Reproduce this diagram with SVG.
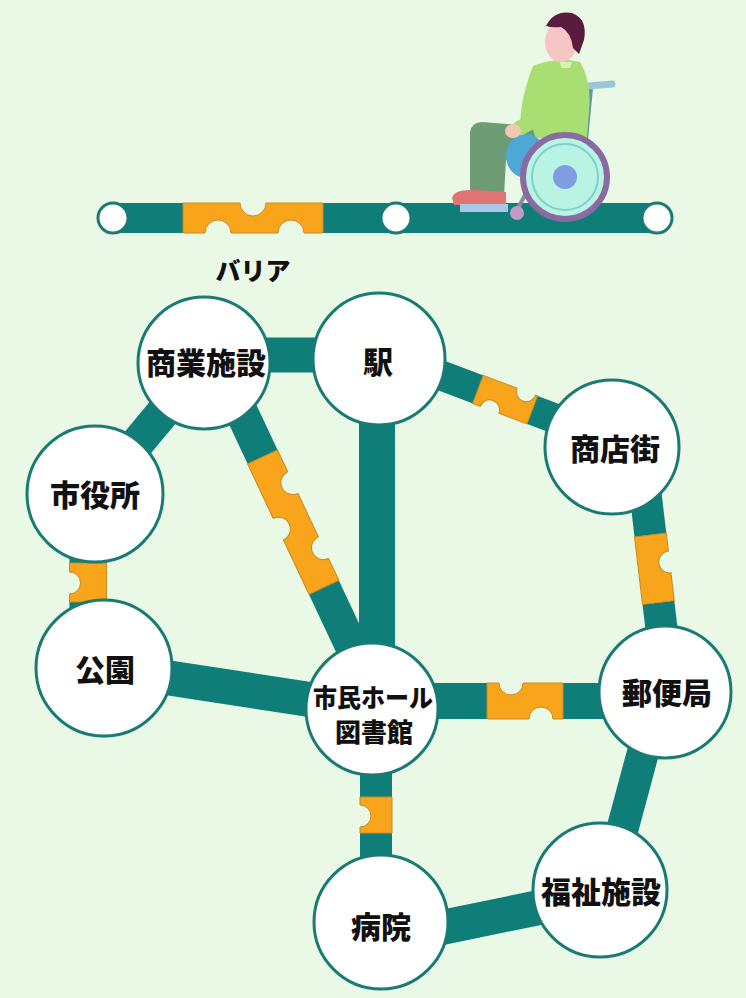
<svg xmlns="http://www.w3.org/2000/svg" width="746" height="998" viewBox="0 0 746 998">
  <style>
    .bg { fill: #e9f9e6; }
    .track { stroke: #0f7d78; fill: none; stroke-linecap: butt; }
    .gap { fill: #e9f9e6; }
    .barrier { fill: #f9a51c; stroke: #c88a22; stroke-width: 1; }
    .node { fill: #ffffff; stroke: #1a7a74; stroke-width: 3; }
    .stop { fill: #ffffff; stroke: #1a7a74; stroke-width: 3; }
    .label { font-family: "Noto Sans CJK JP", "Noto Sans", sans-serif; font-weight: 900; fill: #111111; text-anchor: middle; }
  </style>

  <rect class="bg" x="0" y="0" width="746" height="998"/>

  <!-- legend: route strip with a barrier section -->
  <g id="legend">
    <rect x="113" y="203" width="544" height="30" fill="#0f7d78"/>
    <rect class="gap" x="183" y="202" width="140" height="32"/>
    <path class="barrier" d="M183,203 L240,203 A13,13 0 0 0 266,203 L323,203 L323,233 L304,233 A13,13 0 0 0 278,233 L231,233 A13,13 0 0 0 205,233 L183,233 Z"/>
    <circle class="stop" cx="113" cy="218" r="15"/>
    <circle class="stop" cx="396" cy="218" r="15"/>
    <circle class="stop" cx="657" cy="218" r="15"/>
    <text class="label" x="253" y="280" font-size="25">バリア</text>
  </g>

  <!-- wheelchair user on the strip -->
  <g id="wheelchair-user">
    <!-- chair back and handle -->
    <path d="M590,88 L585,140" stroke="#5b98ad" stroke-width="6" fill="none" stroke-linecap="round"/>
    <path d="M588,86 L612,84" stroke="#9cc6d8" stroke-width="7" fill="none" stroke-linecap="round"/>
    <!-- torso -->
    <path d="M533,66 Q558,56 580,62 Q592,82 589,112 L587,138 L522,138 Q516,110 533,66 Z" fill="#a8de72"/>
    <!-- thigh and lower leg -->
    <path d="M482,122 L532,126 L542,160 L506,160 L504,196 L470,196 L470,132 Q472,122 482,122 Z" fill="#6e9c74"/>
    <!-- seat cushion -->
    <ellipse cx="526" cy="156" rx="20" ry="22" fill="#4ea8d6"/>
    <!-- arm and hand -->
    <path d="M566,80 Q552,112 520,128" stroke="#a8de72" stroke-width="15" fill="none" stroke-linecap="round"/>
    <ellipse cx="513" cy="131" rx="8" ry="7" fill="#f2c8b4"/>
    <!-- head -->
    <ellipse cx="561" cy="42" rx="16" ry="20" fill="#f6c6c6"/>
    <path d="M546,26 Q554,10 572,13 Q588,19 584,40 L579,54 L573,48 Q571,32 561,27 Q552,28 546,26 Z" fill="#5b1b3f"/>
    <path d="M560,62 L572,62 L570,68 L561,68 Z" fill="#d8f0b8"/>
    <!-- front frame and caster -->
    <path d="M540,168 L518,208" stroke="#8a8aa0" stroke-width="4" fill="none"/>
    <circle cx="517" cy="213" r="7" fill="#c59ac9"/>
    <!-- shoe and footrest -->
    <path d="M452,198 Q454,189 474,190 L506,192 L506,205 L454,205 Z" fill="#e07474"/>
    <rect x="460" y="204" width="48" height="8" fill="#a7c9e6"/>
    <!-- big wheel -->
    <circle cx="565" cy="177" r="42" fill="#b9f3e4" stroke="#8a6aa0" stroke-width="6"/>
    <circle cx="565" cy="177" r="33" fill="none" stroke="#7fd0cc" stroke-width="2"/>
    <circle cx="565" cy="177" r="12" fill="#7f9ee0"/>
  </g>

  <!-- connectors -->
  <g id="connectors">
    <!-- 商業施設 – 駅 -->
    <line class="track" x1="204" y1="355" x2="379" y2="355" stroke-width="35"/>
    <!-- 商業施設 – 市役所 -->
    <line class="track" x1="204" y1="363" x2="95" y2="494" stroke-width="34"/>
    <!-- 駅 – 市民ホール -->
    <line class="track" x1="377" y1="359" x2="377" y2="709" stroke-width="36"/>
    <!-- 公園 – 市民ホール -->
    <line class="track" x1="104" y1="668" x2="372" y2="709" stroke-width="35"/>
    <!-- 郵便局 – 福祉施設 -->
    <line class="track" x1="659" y1="693" x2="606" y2="890" stroke-width="32"/>
    <!-- 福祉施設 – 病院 -->
    <line class="track" x1="381" y1="940" x2="600" y2="895" stroke-width="35"/>

    <!-- 商業施設 – 市民ホール (barrier) -->
    <line class="track" x1="218" y1="362" x2="381" y2="709" stroke-width="33"/>
    <g transform="translate(262.6,457) rotate(64.8)">
      <rect class="gap" x="0" y="-18" width="144" height="36"/>
      <path class="barrier" d="M0,-16.5 L24,-16.5 A12,12 0 0 0 48,-16.5 L96,-16.5 A12,12 0 0 0 120,-16.5 L144,-16.5 L144,16.5 L84,16.5 A12,12 0 0 0 60,16.5 L0,16.5 Z"/>
    </g>

    <!-- 駅 – 商店街 (barrier) -->
    <line class="track" x1="379" y1="352" x2="612" y2="440" stroke-width="30"/>
    <g transform="translate(478,389.4) rotate(20.7)">
      <rect class="gap" x="0" y="-16" width="58" height="32"/>
      <path class="barrier" d="M0,-15 L36,-15 A10,10 0 0 0 56,-15 L58,-15 L58,15 L28,15 A10,10 0 0 0 8,15 L0,15 Z"/>
    </g>

    <!-- 商店街 – 郵便局 (barrier) -->
    <line class="track" x1="640" y1="447" x2="669" y2="692" stroke-width="32"/>
    <g transform="translate(650.4,535) rotate(83.25)">
      <rect class="gap" x="0" y="-17" width="68" height="34"/>
      <path class="barrier" d="M0,-16 L18,-16 A11,11 0 0 0 40,-16 L68,-16 L68,16 L0,16 Z"/>
    </g>

    <!-- 市役所 – 公園 (barrier) -->
    <line class="track" x1="88" y1="520" x2="88" y2="640" stroke-width="37"/>
    <g transform="translate(88,563) rotate(90)">
      <rect class="gap" x="0" y="-19" width="39" height="38"/>
      <path class="barrier" d="M0,-18.5 L39,-18.5 L39,18.5 L31,18.5 A11,11 0 0 0 9,18.5 L0,18.5 Z"/>
    </g>

    <!-- 市民ホール – 郵便局 (barrier) -->
    <line class="track" x1="372" y1="701" x2="666" y2="701" stroke-width="36"/>
    <rect class="gap" x="487" y="682" width="76" height="38"/>
    <path class="barrier" d="M487,683 L499,683 A12,12 0 0 0 523,683 L563,683 L563,719 L553,719 A12,12 0 0 0 529,719 L487,719 Z"/>

    <!-- 市民ホール – 病院 (barrier) -->
    <line class="track" x1="376" y1="709" x2="376" y2="922" stroke-width="32"/>
    <rect class="gap" x="359" y="797" width="34" height="36"/>
    <path class="barrier" d="M360,797 L392,797 L392,833 L360,833 L360,827 A11,11 0 0 0 360,805 Z"/>
  </g>

  <!-- nodes -->
  <g id="node-shogyo">
    <circle class="node" cx="204" cy="363" r="66"/>
    <text class="label" x="206" y="374" font-size="30">商業施設</text>
  </g>
  <g id="node-eki">
    <circle class="node" cx="379" cy="359" r="66"/>
    <text class="label" x="378" y="373" font-size="30">駅</text>
  </g>
  <g id="node-shiyakusho">
    <circle class="node" cx="95" cy="494" r="68"/>
    <text class="label" x="95" y="506" font-size="30">市役所</text>
  </g>
  <g id="node-koen">
    <circle class="node" cx="104" cy="668" r="68"/>
    <text class="label" x="105" y="681" font-size="30">公園</text>
  </g>
  <g id="node-shimin-hall">
    <circle class="node" cx="372" cy="709" r="66"/>
    <text class="label" x="373" y="707" font-size="25" textLength="120" lengthAdjust="spacingAndGlyphs">市民ホール</text>
    <text class="label" x="374" y="742" font-size="26">図書館</text>
  </g>
  <g id="node-shotengai">
    <circle class="node" cx="612" cy="447" r="67"/>
    <text class="label" x="615" y="460" font-size="30">商店街</text>
  </g>
  <g id="node-yubinkyoku">
    <circle class="node" cx="665" cy="692" r="66"/>
    <text class="label" x="667" y="704" font-size="30">郵便局</text>
  </g>
  <g id="node-fukushi">
    <circle class="node" cx="600" cy="890" r="67"/>
    <text class="label" x="601" y="903" font-size="30">福祉施設</text>
  </g>
  <g id="node-byoin">
    <circle class="node" cx="381" cy="922" r="67"/>
    <text class="label" x="381" y="938" font-size="30">病院</text>
  </g>
</svg>
